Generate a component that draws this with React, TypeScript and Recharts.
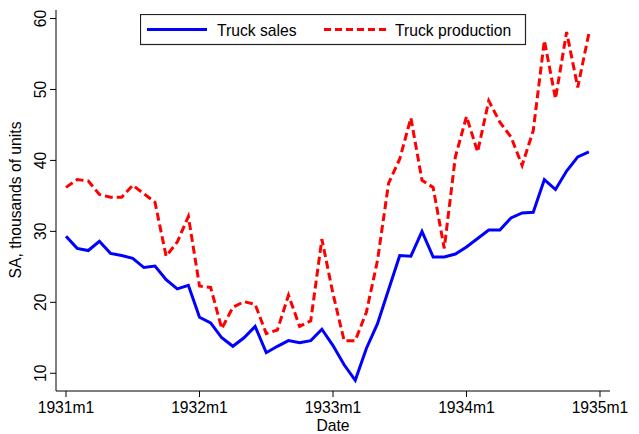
import React from 'react';
import { LineChart, Line, XAxis, YAxis, Legend } from 'recharts';

const monthIndex = [
  0, 1, 2, 3, 4, 5, 6, 7, 8, 9, 10, 11,
  12, 13, 14, 15, 16, 17, 18, 19, 20, 21, 22, 23,
  24, 25, 26, 27, 28, 29, 30, 31, 32, 33, 34, 35,
  36, 37, 38, 39, 40, 41, 42, 43, 44, 45, 46, 47,
];

const truckSales = [
  29.3, 27.6, 27.3, 28.6, 26.9, 26.6, 26.2, 24.9, 25.1, 23.2, 21.9, 22.4,
  17.9, 17.1, 15.0, 13.8, 15.0, 16.6, 12.9, 13.8, 14.6, 14.3, 14.6, 16.2,
  13.9, 11.2, 9.0, 13.5, 17.0, 21.8, 26.6, 26.5, 30.0, 26.4, 26.4, 26.8,
  27.8, 29.0, 30.2, 30.2, 31.9, 32.6, 32.7, 37.3, 35.9, 38.5, 40.5, 41.2,
];

const truckProduction = [
  36.2, 37.3, 37.1, 35.2, 34.8, 34.8, 36.5, 35.3, 34.1, 26.5, 28.5, 32.1,
  22.3, 22.1, 16.3, 19.3, 20.1, 19.7, 15.6, 16.1, 21.0, 16.6, 17.4, 28.9,
  21.2, 14.6, 14.6, 18.6, 25.9, 36.8, 40.2, 46.0, 37.2, 36.2, 27.6, 40.5,
  46.2, 41.2, 48.4, 45.4, 43.3, 39.3, 44.2, 56.9, 48.7, 58.1, 50.3, 57.9,
];

const xTicks = [0, 12, 24, 36, 48];
const xTickLabels = ['1931m1', '1932m1', '1933m1', '1934m1', '1935m1'];
const yTicks = [10, 20, 30, 40, 50, 60];

const seriesNames = ['Truck sales', 'Truck production'];
const yAxisTitle = 'SA, thousands of units';
const xAxisTitle = 'Date';

const data = monthIndex.map((t, i) => ({
  t,
  sales: truckSales[i],
  production: truckProduction[i],
}));

const FONT = '"Liberation Sans", Arial, Helvetica, sans-serif';
const FS = 15.7;

const XTick = (props: any) => {
  const { x, y, payload } = props;
  const idx = xTicks.indexOf(payload.value);
  return (
    <text x={x} y={y + 14} textAnchor="middle" fontFamily={FONT} fontSize={FS} fill="#000">
      {idx >= 0 ? xTickLabels[idx] : payload.value}
    </text>
  );
};

const YTick = (props: any) => {
  const { x, y, payload } = props;
  const tx = x - 2;
  return (
    <text
      x={tx}
      y={y}
      textAnchor="middle"
      transform={`rotate(-90, ${tx}, ${y})`}
      fontFamily={FONT}
      fontSize={FS}
      fill="#000"
    >
      {payload.value}
    </text>
  );
};

const LegendBox = (props: any) => {
  const payload = props.payload || [];
  const sales = payload.find((p: any) => p.dataKey === 'sales');
  const prod = payload.find((p: any) => p.dataKey === 'production');
  return (
    <svg width={387} height={32} style={{ display: 'block' }}>
      <rect x={0.5} y={0.5} width={385} height={30} fill="#fff" stroke="#222" strokeWidth={1.2} />
      <line x1={7} y1={15.5} x2={67} y2={15.5} stroke={sales ? sales.color : '#0000ff'} strokeWidth={3} />
      <text x={77} y={22} fontFamily={FONT} fontSize={FS} fill="#000">
        {sales ? sales.value : seriesNames[0]}
      </text>
      <line
        x1={184}
        y1={15.5}
        x2={248}
        y2={15.5}
        stroke={prod ? prod.color : '#ff0000'}
        strokeWidth={3}
        strokeDasharray="7 4"
      />
      <text x={255} y={22} fontFamily={FONT} fontSize={FS} fill="#000">
        {prod ? prod.value : seriesNames[1]}
      </text>
    </svg>
  );
};

export default function App() {
  return (
    <div style={{ position: 'absolute', left: 0, top: 0, width: 639, height: 434, background: '#fff' }}>
      <LineChart
        width={639}
        height={434}
        data={data}
        margin={{ top: 10, right: 29, bottom: 0, left: 0 }}
        style={{ fontFamily: FONT }}
      >
        <XAxis
          dataKey="t"
          type="number"
          domain={[-0.9, 48.9]}
          ticks={xTicks}
          allowDataOverflow
          height={43}
          tickSize={6}
          axisLine={{ stroke: '#000', strokeWidth: 1 }}
          tickLine={{ stroke: '#000', strokeWidth: 1 }}
          tick={<XTick />}
          interval={0}
          label={{
            content: () => (
              <text x={333} y={431} textAnchor="middle" fontFamily={FONT} fontSize={FS} fill="#000">
                {xAxisTitle}
              </text>
            ),
          }}
        />
        <YAxis
          type="number"
          domain={[7.5, 61.2]}
          ticks={yTicks}
          allowDataOverflow
          width={56}
          tickSize={6}
          axisLine={{ stroke: '#000', strokeWidth: 1 }}
          tickLine={{ stroke: '#000', strokeWidth: 1 }}
          tick={<YTick />}
          interval={0}
          label={{
            content: () => (
              <text
                x={21}
                y={200}
                textAnchor="middle"
                transform="rotate(-90, 21, 200)"
                fontFamily={FONT}
                fontSize={FS}
                fill="#000"
              >
                {yAxisTitle}
              </text>
            ),
          }}
        />
        <Legend
          layout="horizontal"
          verticalAlign="middle"
          align="center"
          content={<LegendBox />}
          wrapperStyle={{ position: 'absolute', left: 140, top: 14, width: 387, height: 32 }}
        />
        <Line
          type="linear"
          dataKey="sales"
          name={seriesNames[0]}
          stroke="#0000ff"
          strokeWidth={3}
          dot={false}
          activeDot={false}
          isAnimationActive={false}
        />
        <Line
          type="linear"
          dataKey="production"
          name={seriesNames[1]}
          stroke="#ff0000"
          strokeWidth={3}
          strokeDasharray="8 4"
          dot={false}
          activeDot={false}
          isAnimationActive={false}
        />
      </LineChart>
    </div>
  );
}
